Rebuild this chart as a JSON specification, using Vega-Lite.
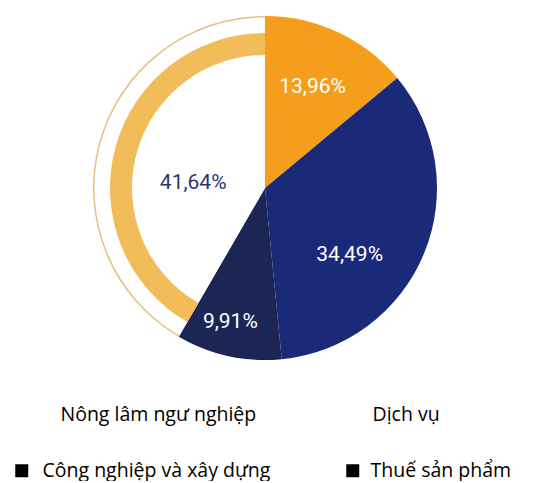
{
  "$schema": "https://vega.github.io/schema/vega-lite/v6.json",
  "width": 530,
  "height": 376,
  "padding": 0,
  "config": {
    "view": {"stroke": null},
    "locale": {"number": {"decimal": ",", "thousands": ".", "grouping": [3], "currency": ["", ""]}}
  },
  "data": {
    "values": [
      {"name": "Nông lâm ngư nghiệp", "share": 0.1396, "ord": 1},
      {"name": "Công nghiệp và xây dựng", "share": 0.3449, "ord": 2},
      {"name": "Thuế sản phẩm", "share": 0.0991, "ord": 3},
      {"name": "Dịch vụ", "share": 0.4164, "ord": 4}
    ]
  },
  "encoding": {
    "theta": {"field": "share", "type": "quantitative", "stack": true},
    "order": {"field": "ord", "type": "quantitative"}
  },
  "layer": [
    {
      "mark": {"type": "arc", "outerRadius": 172},
      "encoding": {
        "color": {
          "field": "name",
          "type": "nominal",
          "scale": {
            "domain": ["Nông lâm ngư nghiệp", "Công nghiệp và xây dựng", "Dịch vụ", "Thuế sản phẩm"],
            "range": ["#F59E1C", "#1B2A78", "#FFFFFF", "#1B2654"]
          },
          "legend": null
        }
      }
    },
    {
      "mark": {"type": "arc", "outerRadius": 172, "innerRadius": 170.5, "color": "#E3C07E"},
      "encoding": {"opacity": {"condition": {"test": "datum.name === 'Dịch vụ'", "value": 1}, "value": 0}}
    },
    {
      "mark": {"type": "arc", "outerRadius": 155, "innerRadius": 133, "color": "#F2BC5A"},
      "encoding": {"opacity": {"condition": {"test": "datum.name === 'Dịch vụ'", "value": 1}, "value": 0}}
    },
    {
      "mark": {"type": "arc", "outerRadius": 0, "innerRadius": 0},
      "encoding": {
        "color": {
          "field": "name",
          "type": "nominal",
          "scale": {
            "domain": ["Nông lâm ngư nghiệp", "Công nghiệp và xây dựng", "Dịch vụ", "Thuế sản phẩm"],
            "range": ["#FFFFFF", "#000000", "#FFFFFF", "#000000"]
          },
          "legend": {
            "title": null,
            "orient": "none",
            "legendX": 12,
            "legendY": 405,
            "padding": 0,
            "columns": 2,
            "gridAlign": "all",
            "columnPadding": 72,
            "rowPadding": 35,
            "symbolType": "square",
            "symbolSize": 169,
            "symbolStrokeWidth": 0,
            "labelFont": "Open Sans",
            "labelFontSize": 19.5,
            "labelColor": "#000000",
            "labelOffset": 11,
            "labelLimit": 400,
            "encode": {
              "labels": {"update": {"dx": {"signal": "datum.value === 'Nông lâm ngư nghiệp' ? 18 : datum.value === 'Thuế sản phẩm' ? -3 : datum.value === 'Dịch vụ' ? -1 : 0"}}}
            }
          }
        }
      }
    },
    {
      "mark": {"type": "text", "radius": 112, "font": "Roboto", "fontSize": 21, "color": "#FFFFFF"},
      "encoding": {
        "text": {"field": "share", "type": "quantitative", "format": ".2%"},
        "opacity": {"condition": {"test": "datum.name === 'Nông lâm ngư nghiệp'", "value": 1}, "value": 0}
      }
    },
    {
      "mark": {"type": "text", "radius": 108, "thetaOffset": 0.28, "font": "Roboto", "fontSize": 21, "color": "#FFFFFF"},
      "encoding": {
        "text": {"field": "share", "type": "quantitative", "format": ".2%"},
        "opacity": {"condition": {"test": "datum.name === 'Công nghiệp và xây dựng'", "value": 1}, "value": 0}
      }
    },
    {
      "mark": {"type": "text", "radius": 138, "thetaOffset": 0.04, "font": "Roboto", "fontSize": 21, "color": "#FFFFFF"},
      "encoding": {
        "text": {"field": "share", "type": "quantitative", "format": ".2%"},
        "opacity": {"condition": {"test": "datum.name === 'Thuế sản phẩm'", "value": 1}, "value": 0}
      }
    },
    {
      "mark": {"type": "text", "radius": 72, "thetaOffset": -0.19, "font": "Roboto", "fontSize": 21, "color": "#2B3570"},
      "encoding": {
        "text": {"field": "share", "type": "quantitative", "format": ".2%"},
        "opacity": {"condition": {"test": "datum.name === 'Dịch vụ'", "value": 1}, "value": 0}
      }
    }
  ],
  "resolve": {"scale": {"color": "independent"}, "legend": {"color": "independent"}}
}
